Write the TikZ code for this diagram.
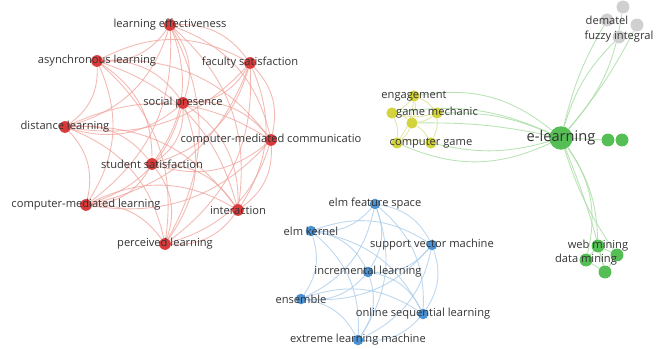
\documentclass[tikz,border=0pt]{standalone}
\usepackage{fontspec}
\setmainfont{Open Sans}
\usetikzlibrary{positioning}
\definecolor{netred}{HTML}{D93B3B}
\definecolor{netredl}{HTML}{F0A39B}
\definecolor{netblue}{HTML}{4A92D3}
\definecolor{netbluel}{HTML}{A8CBEA}
\definecolor{netyel}{HTML}{D3D33C}
\definecolor{netyell}{HTML}{DCE08A}
\definecolor{netgreen}{HTML}{55BE55}
\definecolor{netgreenl}{HTML}{A8DDA3}
\definecolor{netgray}{HTML}{D0D0D0}
\definecolor{netink}{HTML}{333333}
\pgfdeclarelayer{links}
\pgfdeclarelayer{words}
\pgfsetlayers{links,main,words}

\begin{document}
\begin{tikzpicture}[x=0.03cm, y=-0.03cm,
    dot/.style={circle, inner sep=0pt, minimum size=#1},
    rdot/.style={dot=10pt, fill=netred},
    bdot/.style={dot=9pt, fill=netblue},
    ydot/.style={dot=9.5pt, fill=netyel},
    gdot/.style={dot=11pt, fill=netgreen},
    sdot/.style={dot=11pt, fill=netgray},
    lbl/.style={font=\fontsize{9.5}{10}\selectfont, text=netink, inner sep=0pt},
    rlink/.style={netredl, line width=0.75pt, opacity=0.75},
    blink/.style={netbluel, line width=0.75pt, opacity=0.75},
    ylink/.style={netyell, line width=0.75pt, opacity=0.75},
    glink/.style={netgreenl, line width=0.75pt, opacity=0.8}]
  \useasboundingbox (0,0) rectangle (659,349);

  \foreach \n/\x/\y/\t in {le/170/25/learning effectiveness,
      al/97/61/asynchronous learning, fs/250/63/faculty satisfaction,
      sp/183/103/social presence, dl/65/127/distance learning,
      cmc/271/140/computer-mediated communicatio,
      ss/152/164/student satisfaction, cml/86/205/computer-mediated learning,
      ia/238/210/interaction, pl/165/244/perceived learning}{%
    \node[rdot] (\n) at (\x,\y) {};
    \begin{pgfonlayer}{words}\node[lbl] (\n-l) at (\n) {\t};\end{pgfonlayer}}

  \foreach \n/\x/\y/\t in {efs/375/204/elm feature space, ek/311/231/elm kernel,
      svm/432/245/support vector machine, il/368/272/incremental learning,
      ens/301/299/ensemble, osl/423/314/online sequential learning,
      elm/358/340/extreme learning machine}{%
    \node[bdot] (\n) at (\x,\y) {};
    \begin{pgfonlayer}{words}\node[lbl] (\n-l) at (\n) {\t};\end{pgfonlayer}}

  \foreach \n/\x/\y/\t in {eng/414/96/engagement, gm/437/113/game mechanic,
      y3/392/113/, y4/412/123/, cga/397/143/, cg/431/143/computer game}{%
    \node[ydot] (\n) at (\x,\y) {};
    \begin{pgfonlayer}{words}\node[lbl] (\n-l) at (\n) {\t};\end{pgfonlayer}}

  \node[gdot, minimum size=20pt] (el) at (561,138) {};
  \begin{pgfonlayer}{words}
    \node[lbl, font=\fontsize{12.5}{14}\selectfont] (el-l) at (el) {e-learning};
  \end{pgfonlayer}
  \foreach \n/\x/\y/\t in {ga/608/140/, gb/622/140/, wm/598/246/web mining,
      wb/617/255/, dm/586/260/data mining, wd/605/272/}{%
    \node[gdot] (\n) at (\x,\y) {};
    \begin{pgfonlayer}{words}\node[lbl] (\n-l) at (\n) {\t};\end{pgfonlayer}}

  \foreach \n/\x/\y/\t in {sa/623/7/, dem/607/20/dematel, sc/637/25/,
      fi/619/37/fuzzy integral}{%
    \node[sdot] (\n) at (\x,\y) {};
    \begin{pgfonlayer}{words}\node[lbl] (\n-l) at (\n) {\t};\end{pgfonlayer}}

  \begin{pgfonlayer}{links}
    \fill[white] (0,0) rectangle (659,349);
    \foreach \a [count=\i] in {le,al,fs,sp,dl,cmc,ss,cml,ia,pl}{%
      \foreach \b [count=\j] in {le,al,fs,sp,dl,cmc,ss,cml,ia,pl}{%
        \ifnum\j>\i \draw[rlink] (\a) to[bend left=28] (\b);\fi}}
    \foreach \a [count=\i] in {efs,ek,svm,il,ens,osl,elm}{%
      \foreach \b [count=\j] in {efs,ek,svm,il,ens,osl,elm}{%
        \ifnum\j>\i \draw[blink] (\a) to[bend left=26] (\b);\fi}}
    \foreach \a/\b in {eng/y3, eng/gm, eng/y4, gm/y3, gm/y4, y3/y4, y3/cga,
        y4/cga, y4/cg, gm/cg, cga/cg, eng/cga}
      \draw[ylink] (\a) to[bend left=14] (\b);
    \foreach \b/\bend in {eng/24, gm/12, y3/16, y4/6, cga/-24, cg/-14}
      \draw[glink] (el) to[bend right=\bend] (\b);
    \foreach \b/\bend in {sa/-16, dem/8, sc/-6, fi/14}
      \draw[glink] (el) to[bend left=\bend] (\b);
    \foreach \b/\bend in {wm/16, wb/-8, dm/24, wd/4}
      \draw[glink] (el) to[bend left=\bend] (\b);
    \draw[glink] (el) -- (ga);
    \foreach \a/\b in {wm/wb, wm/dm, dm/wd, wb/wd, wm/wd}
      \draw[glink] (\a) -- (\b);
  \end{pgfonlayer}
\end{tikzpicture}
\end{document}
